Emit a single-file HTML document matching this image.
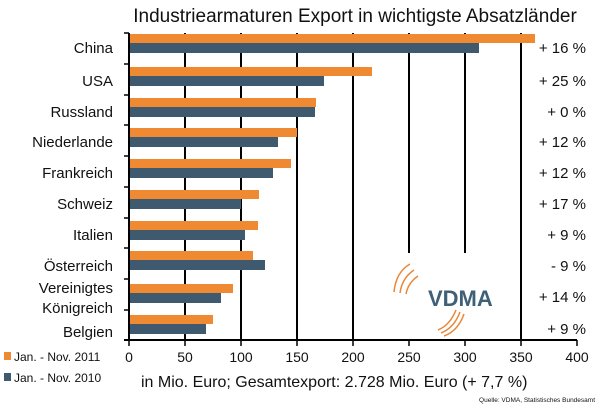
<!DOCTYPE html><html><head><style>body{margin:0;background:#fff}svg{display:block}text{font-family:"Liberation Sans",sans-serif;fill:#111}</style></head><body>
<svg width="600" height="408" viewBox="0 0 600 408">
<text x="355" y="22" font-size="19" text-anchor="middle">Industriearmaturen Export in wichtigste Absatzländer</text>
<g stroke="#000" stroke-width="2">
<line x1="185" y1="33" x2="185" y2="340"/><line x1="241" y1="33" x2="241" y2="340"/><line x1="297" y1="33" x2="297" y2="340"/><line x1="353" y1="33" x2="353" y2="340"/>
<line x1="409" y1="33" x2="409" y2="253"/><line x1="465" y1="33" x2="465" y2="253"/><line x1="521" y1="33" x2="521" y2="340"/>
<line x1="129" y1="33" x2="129" y2="341"/><line x1="124" y1="340" x2="577" y2="340"/>
</g>
<g stroke="#000" stroke-width="1.5">
<line x1="124" y1="33" x2="129" y2="33"/><line x1="124" y1="64" x2="129" y2="64"/><line x1="124" y1="95" x2="129" y2="95"/><line x1="124" y1="125" x2="129" y2="125"/><line x1="124" y1="156" x2="129" y2="156"/><line x1="124" y1="187" x2="129" y2="187"/><line x1="124" y1="218" x2="129" y2="218"/><line x1="124" y1="248" x2="129" y2="248"/><line x1="124" y1="279" x2="129" y2="279"/><line x1="124" y1="310" x2="129" y2="310"/>
<line x1="129" y1="340" x2="129" y2="346"/><line x1="185" y1="340" x2="185" y2="346"/><line x1="241" y1="340" x2="241" y2="346"/><line x1="297" y1="340" x2="297" y2="346"/><line x1="353" y1="340" x2="353" y2="346"/><line x1="409" y1="340" x2="409" y2="346"/><line x1="465" y1="340" x2="465" y2="346"/><line x1="521" y1="340" x2="521" y2="346"/><line x1="577" y1="340" x2="577" y2="346"/>
</g>
<g fill="#f08a32">
<rect x="130" y="34" width="405" height="9"/><rect x="130" y="67" width="242" height="9"/><rect x="130" y="98" width="186" height="9"/><rect x="130" y="128" width="167" height="9"/><rect x="130" y="159" width="161" height="9"/><rect x="130" y="190" width="129" height="9"/><rect x="130" y="221" width="128" height="9"/><rect x="130" y="251" width="123" height="9"/><rect x="130" y="284" width="103" height="9"/><rect x="130" y="315" width="83" height="9"/>
</g>
<g fill="#3f5a6e">
<rect x="130" y="43" width="349" height="10"/><rect x="130" y="76" width="194" height="10"/><rect x="130" y="107" width="185" height="10"/><rect x="130" y="137" width="148" height="10"/><rect x="130" y="168" width="143" height="10"/><rect x="130" y="199" width="111" height="10"/><rect x="130" y="230" width="115" height="10"/><rect x="130" y="260" width="135" height="10"/><rect x="130" y="293" width="91" height="10"/><rect x="130" y="324" width="76" height="10"/>
</g>
<g font-size="15" text-anchor="end">
<text x="113" y="53">China</text><text x="113" y="86">USA</text><text x="113" y="117">Russland</text><text x="113" y="147">Niederlande</text><text x="113" y="178">Frankreich</text><text x="113" y="209">Schweiz</text><text x="113" y="240">Italien</text><text x="113" y="271">Österreich</text><text x="113" y="293">Vereinigtes</text><text x="113" y="313">Königreich</text><text x="113" y="337">Belgien</text>
<text x="586" y="53">+ 16 %</text><text x="586" y="86">+ 25 %</text><text x="586" y="117">+ 0 %</text><text x="586" y="147">+ 12 %</text><text x="586" y="178">+ 12 %</text><text x="586" y="209">+ 17 %</text><text x="586" y="240">+ 9 %</text><text x="586" y="271">- 9 %</text><text x="586" y="302">+ 14 %</text><text x="586" y="334">+ 9 %</text>
</g>
<g font-size="14" text-anchor="middle">
<text x="129" y="362">0</text><text x="185" y="362">50</text><text x="241" y="362">100</text><text x="297" y="362">150</text><text x="353" y="362">200</text><text x="409" y="362">250</text><text x="465" y="362">300</text><text x="521" y="362">350</text><text x="577" y="362">400</text>
</g>
<rect x="4" y="352" width="7" height="8" fill="#f08a32"/><text x="14" y="361" font-size="12">Jan. - Nov. 2011</text>
<rect x="4" y="373" width="7" height="8" fill="#3f5a6e"/><text x="14" y="382" font-size="12">Jan. - Nov. 2010</text>
<text x="141" y="387" font-size="16">in Mio. Euro; Gesamtexport: 2.728 Mio. Euro (+ 7,7 %)</text>
<text x="595" y="402" font-size="6.5" text-anchor="end">Quelle: VDMA, Statistisches Bundesamt</text>
<g fill="none" stroke="#e8873a" stroke-width="1.5">
<path d="M394 292 Q396 272 410 264"/><path d="M400 293 Q402 278 414 270"/><path d="M406 294 Q408 283 418 276"/>
<path d="M438 330 Q450 325 456 310"/><path d="M441 333 Q454 328 460 312"/><path d="M444 336 Q458 331 464 314"/>
</g>
<text x="428" y="306" font-size="22" font-weight="bold" fill="#3f6178" style="fill:#3f6178">VDMA</text>
</svg></body></html>
